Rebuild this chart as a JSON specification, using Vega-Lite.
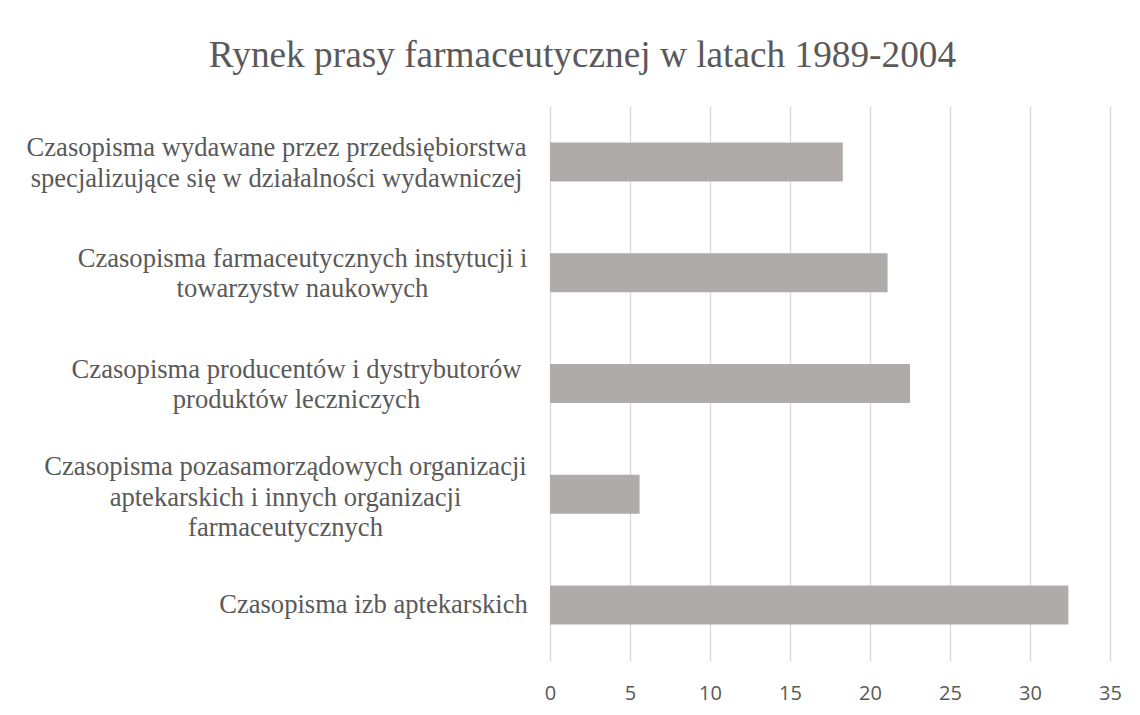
{
  "$schema": "https://vega.github.io/schema/vega-lite/v6.json",
  "width": 560,
  "height": 555,
  "autosize": {"type": "none"},
  "padding": {"left": 550, "top": 106, "right": 30, "bottom": 54},
  "background": "white",
  "title": {
    "text": "Rynek prasy farmaceutycznej w latach 1989-2004",
    "font": "Liberation Serif",
    "fontSize": 37.3,
    "fontWeight": "normal",
    "color": "#595959",
    "anchor": "middle",
    "frame": "group",
    "dx": -247.5,
    "offset": 31
  },
  "data": {
    "values": [
      {"kategoria": "Czasopisma wydawane przez przedsiębiorstwa|specjalizujące się w działalności wydawniczej", "wartosc": 18.3},
      {"kategoria": "Czasopisma farmaceutycznych instytucji i|towarzystw naukowych", "wartosc": 21.1},
      {"kategoria": "Czasopisma producentów i dystrybutorów|produktów leczniczych", "wartosc": 22.5},
      {"kategoria": "Czasopisma pozasamorządowych organizacji|aptekarskich i innych organizacji|farmaceutycznych", "wartosc": 5.6},
      {"kategoria": "Czasopisma izb aptekarskich", "wartosc": 32.4}
    ]
  },
  "mark": {"type": "bar", "color": "#afabab"},
  "encoding": {
    "y": {
      "field": "kategoria",
      "type": "nominal",
      "sort": null,
      "scale": {"paddingInner": 0.648, "paddingOuter": 0.33},
      "axis": {
        "title": null,
        "domain": false,
        "ticks": false,
        "tickSize": 0,
        "grid": false,
        "labelFont": "Liberation Serif",
        "labelFontSize": 26.6,
        "labelColor": "#595959",
        "labelAlign": "center",
        "labelBaseline": "middle",
        "labelLineHeight": 30.6,
        "labelLimit": 0,
        "labelExpr": "split(datum.label, '|')",
        "labelOffset": {
          "condition": [
            {"test": "datum.value == 'Czasopisma wydawane przez przedsiębiorstwa|specjalizujące się w działalności wydawniczej'", "value": -14},
            {"test": "datum.value == 'Czasopisma farmaceutycznych instytucji i|towarzystw naukowych'", "value": -14},
            {"test": "datum.value == 'Czasopisma producentów i dystrybutorów|produktów leczniczych'", "value": -14},
            {"test": "datum.value == 'Czasopisma pozasamorządowych organizacji|aptekarskich i innych organizacji|farmaceutycznych'", "value": -27}
          ],
          "value": 0
        },
        "labelPadding": {
          "condition": [
            {"test": "datum.value == 'Czasopisma wydawane przez przedsiębiorstwa|specjalizujące się w działalności wydawniczej'", "value": 274},
            {"test": "datum.value == 'Czasopisma farmaceutycznych instytucji i|towarzystw naukowych'", "value": 248},
            {"test": "datum.value == 'Czasopisma producentów i dystrybutorów|produktów leczniczych'", "value": 254},
            {"test": "datum.value == 'Czasopisma pozasamorządowych organizacji|aptekarskich i innych organizacji|farmaceutycznych'", "value": 265}
          ],
          "value": 177
        }
      }
    },
    "x": {
      "field": "wartosc",
      "type": "quantitative",
      "scale": {"domain": [0, 35], "nice": false},
      "axis": {
        "title": null,
        "values": [0, 5, 10, 15, 20, 25, 30, 35],
        "grid": true,
        "gridColor": "#d9d9d9",
        "gridWidth": 1.3,
        "domain": false,
        "ticks": false,
        "tickSize": 0,
        "labelFlush": false,
        "labelFont": "Open Sans",
        "labelFontSize": 20,
        "labelColor": "#595959",
        "labelPadding": 22
      }
    }
  },
  "config": {"view": {"stroke": null}}
}
